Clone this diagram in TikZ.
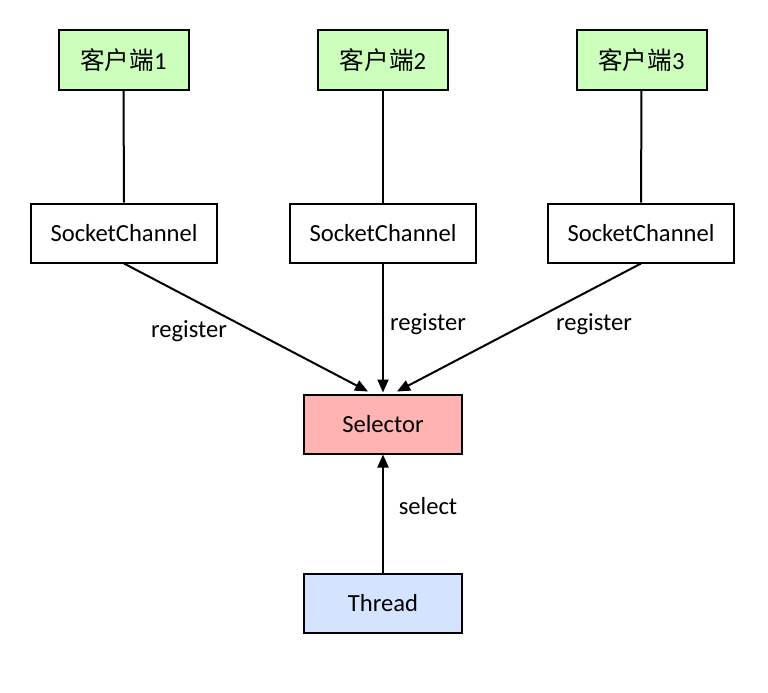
\documentclass[tikz,border=0pt]{standalone}
\usepackage{fontspec}
\setmainfont{Carlito}
\newfontfamily\cjk{Noto Sans CJK SC}
\usetikzlibrary{arrows.meta}
\definecolor{clientgreen}{RGB}{204,255,187}
\definecolor{selpink}{RGB}{255,179,179}
\definecolor{threadblue}{RGB}{212,228,255}
\tikzset{
    box/.style={draw, line width=2pt, minimum height=59pt, inner sep=0pt},
    client/.style={box, fill=clientgreen, minimum width=130pt},
    channel/.style={box, fill=white, minimum width=186pt},
    core/.style={box, minimum width=158pt},
    link/.style={line width=2pt},
    reg/.style={line width=2pt, -{Triangle[length=13pt,width=11pt]}}
}
\begin{document}
\begin{tikzpicture}[x=1pt,y=-1pt,font=\fontsize{24.6}{30}\selectfont]
            \useasboundingbox (0,0) rectangle (768,693);
            \node[client] (c1) at (123.5,60) {{\cjk 客户端}1};
            \node[client] (c2) at (383,60) {{\cjk 客户端}2};
            \node[client] (c3) at (641.5,60) {{\cjk 客户端}3};
            \node[channel] (sc1) at (124,233) {SocketChannel};
            \node[channel] (sc2) at (383,233) {SocketChannel};
            \node[channel] (sc3) at (641,233) {SocketChannel};
            \node[core, fill=selpink] (sel) at (383,424) {Selector};
            \node[core, fill=threadblue] (thr) at (383,603) {Thread};

            \node (reg1) at (189,331) {register};
            \node (reg2) at (428,324) {register};
            \node (reg3) at (594,324) {register};
            \node (sel1) at (428,506) {select};

            \draw[link] (c1) to (sc1); \draw[link] (c2) to (sc2); \draw[link] (c3) to (sc3);
            \draw[reg] (sc1.south) to ([xshift=-15pt,yshift=2pt]sel.north);
            \draw[reg] (sc2.south) to ([yshift=1pt]sel.north);
            \draw[reg] (sc3.south) to ([xshift=14pt,yshift=2pt]sel.north);
            \draw[reg] (thr.north) to (sel.south);
        \end{tikzpicture}
\end{document}
